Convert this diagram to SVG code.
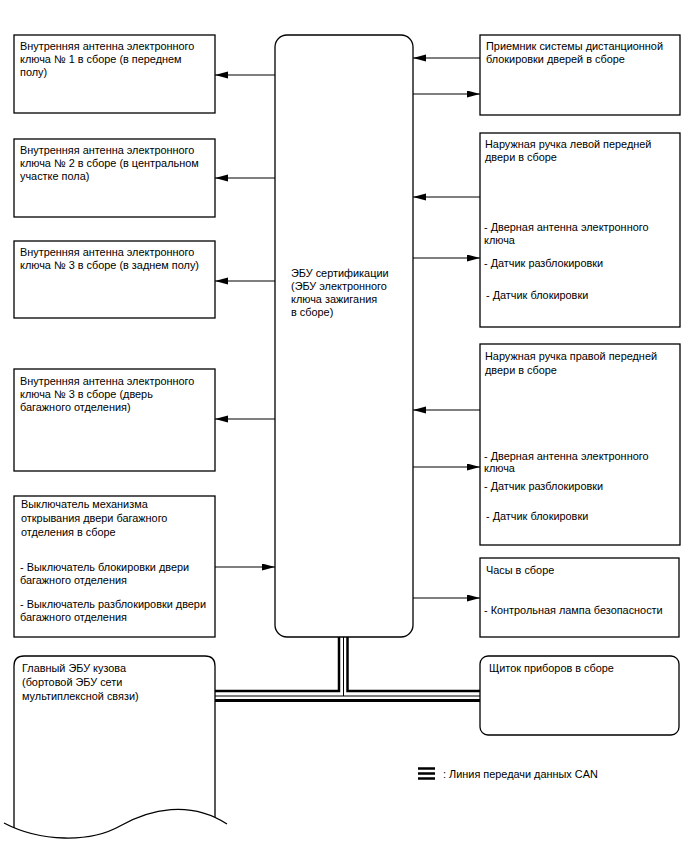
<svg xmlns="http://www.w3.org/2000/svg" width="688" height="852" viewBox="0 0 688 852">
<style>
.box{fill:#fff;stroke:#000;stroke-width:1.3}
.t{font-family:"Liberation Sans",Arial,sans-serif;font-size:10.9px;fill:#000}
.c{fill:none;stroke:#000;stroke-width:1.2}
.can{fill:none;stroke:#000}
</style>
<defs>
<marker id="ah" markerUnits="userSpaceOnUse" markerWidth="14" markerHeight="8" refX="13" refY="3.5" orient="auto">
<path d="M0,0 L13,3.5 L0,7 z" fill="#000"/>
</marker>
</defs>
<rect width="688" height="852" fill="#fff"/>

<g id="connectors">
<line class="c" x1="275" y1="75" x2="215" y2="75" marker-end="url(#ah)"/>
<line class="c" x1="275" y1="178" x2="215" y2="178" marker-end="url(#ah)"/>
<line class="c" x1="275" y1="281" x2="215" y2="281" marker-end="url(#ah)"/>
<line class="c" x1="275" y1="419" x2="215" y2="419" marker-end="url(#ah)"/>
<line class="c" x1="215" y1="567" x2="275" y2="567" marker-end="url(#ah)"/>
<line class="c" x1="480" y1="58" x2="413" y2="58" marker-end="url(#ah)"/>
<line class="c" x1="413" y1="94" x2="480" y2="94" marker-end="url(#ah)"/>
<line class="c" x1="480" y1="197" x2="413" y2="197" marker-end="url(#ah)"/>
<line class="c" x1="413" y1="258" x2="480" y2="258" marker-end="url(#ah)"/>
<line class="c" x1="480" y1="410" x2="413" y2="410" marker-end="url(#ah)"/>
<line class="c" x1="413" y1="467" x2="480" y2="467" marker-end="url(#ah)"/>
<line class="c" x1="413" y1="598" x2="480" y2="598" marker-end="url(#ah)"/>
<g id="can-bus">
<path class="can" stroke-width="2.5" d="M339,637 V691 H215"/>
<path class="can" stroke-width="2.5" d="M347.5,637 V691 H480"/>
<path class="can" stroke-width="1" d="M343.5,637 V696 M215,696 H480"/>
<path class="can" stroke-width="3" d="M215,700.5 H480"/>
</g>
</g>

<g id="n-ant1">
<rect class="box" x="14" y="35" width="201" height="78"/>
<text class="t" x="20" y="50">Внутренняя антенна электронного</text>
<text class="t" x="20" y="63">ключа № 1 в сборе (в переднем</text>
<text class="t" x="20" y="76">полу)</text>
</g>
<g id="n-ant2">
<rect class="box" x="14" y="139" width="201" height="78"/>
<text class="t" x="20" y="154">Внутренняя антенна электронного</text>
<text class="t" x="20" y="167">ключа № 2 в сборе (в центральном</text>
<text class="t" x="20" y="180">участке пола)</text>
</g>
<g id="n-ant3">
<rect class="box" x="14" y="241" width="201" height="77"/>
<text class="t" x="20" y="256">Внутренняя антенна электронного</text>
<text class="t" x="20" y="269">ключа № 3 в сборе (в заднем полу)</text>
</g>
<g id="n-ant4">
<rect class="box" x="14" y="369" width="201" height="102"/>
<text class="t" x="20" y="385">Внутренняя антенна электронного</text>
<text class="t" x="20" y="398">ключа № 3 в сборе (дверь</text>
<text class="t" x="20" y="411">багажного отделения)</text>
</g>
<g id="n-trunk">
<rect class="box" x="14" y="496" width="201" height="141"/>
<text class="t" x="21" y="508">Выключатель механизма</text>
<text class="t" x="21" y="522">открывания двери багажного</text>
<text class="t" x="21" y="536">отделения в сборе</text>
<text class="t" x="20" y="571">- Выключатель блокировки двери</text>
<text class="t" x="20" y="584">багажного отделения</text>
<text class="t" x="20" y="608">- Выключатель разблокировки двери</text>
<text class="t" x="20" y="621">багажного отделения</text>
</g>
<g id="n-body-ecu">
<path class="box" d="M14,828 V666 Q14,656 24,656 H205 Q215,656 215,666 V817"/>
<path fill="none" stroke="#000" stroke-width="1.3" d="M4,823 C40,842 90,843 120,826 S190,800 227,824"/>
<text class="t" x="22" y="672">Главный ЭБУ кузова</text>
<text class="t" x="22" y="686">(бортовой ЭБУ сети</text>
<text class="t" x="22" y="700">мультиплексной связи)</text>
</g>
<g id="n-cert-ecu">
<rect class="box" x="275" y="35" width="138" height="602" rx="12" ry="12"/>
<text class="t" x="291" y="277">ЭБУ сертификации</text>
<text class="t" x="291" y="290">(ЭБУ электронного</text>
<text class="t" x="291" y="303">ключа зажигания</text>
<text class="t" x="291" y="316">в сборе)</text>
</g>
<g id="n-receiver">
<rect class="box" x="480" y="35" width="200" height="80"/>
<text class="t" x="486" y="50">Приемник системы дистанционной</text>
<text class="t" x="486" y="63">блокировки дверей в сборе</text>
</g>
<g id="n-left-handle">
<rect class="box" x="480" y="133" width="200" height="194"/>
<text class="t" x="485" y="148">Наружная ручка левой передней</text>
<text class="t" x="485" y="161">двери в сборе</text>
<text class="t" x="484" y="231">- Дверная антенна электронного</text>
<text class="t" x="484" y="244">ключа</text>
<text class="t" x="484" y="267">- Датчик разблокировки</text>
<text class="t" x="486" y="299">- Датчик блокировки</text>
</g>
<g id="n-right-handle">
<rect class="box" x="480" y="344" width="200" height="201"/>
<text class="t" x="485" y="360">Наружная ручка правой передней</text>
<text class="t" x="485" y="374">двери в сборе</text>
<text class="t" x="484" y="460">- Дверная антенна электронного</text>
<text class="t" x="484" y="472">ключа</text>
<text class="t" x="484" y="490">- Датчик разблокировки</text>
<text class="t" x="486" y="520">- Датчик блокировки</text>
</g>
<g id="n-clock">
<rect class="box" x="480" y="558" width="199" height="79"/>
<text class="t" x="486" y="574">Часы в сборе</text>
<text class="t" x="484" y="614">- Контрольная лампа безопасности</text>
</g>
<g id="n-meter">
<rect class="box" x="480" y="656" width="199" height="79" rx="8" ry="8"/>
<text class="t" x="489" y="672">Щиток приборов в сборе</text>
</g>
<g id="legend">
<path stroke="#000" stroke-width="2.5" d="M418,768.5 H435 M418,773.5 H435 M418,778.5 H435"/>
<text class="t" x="443" y="778">: Линия передачи данных CAN</text>
</g>
</svg>
